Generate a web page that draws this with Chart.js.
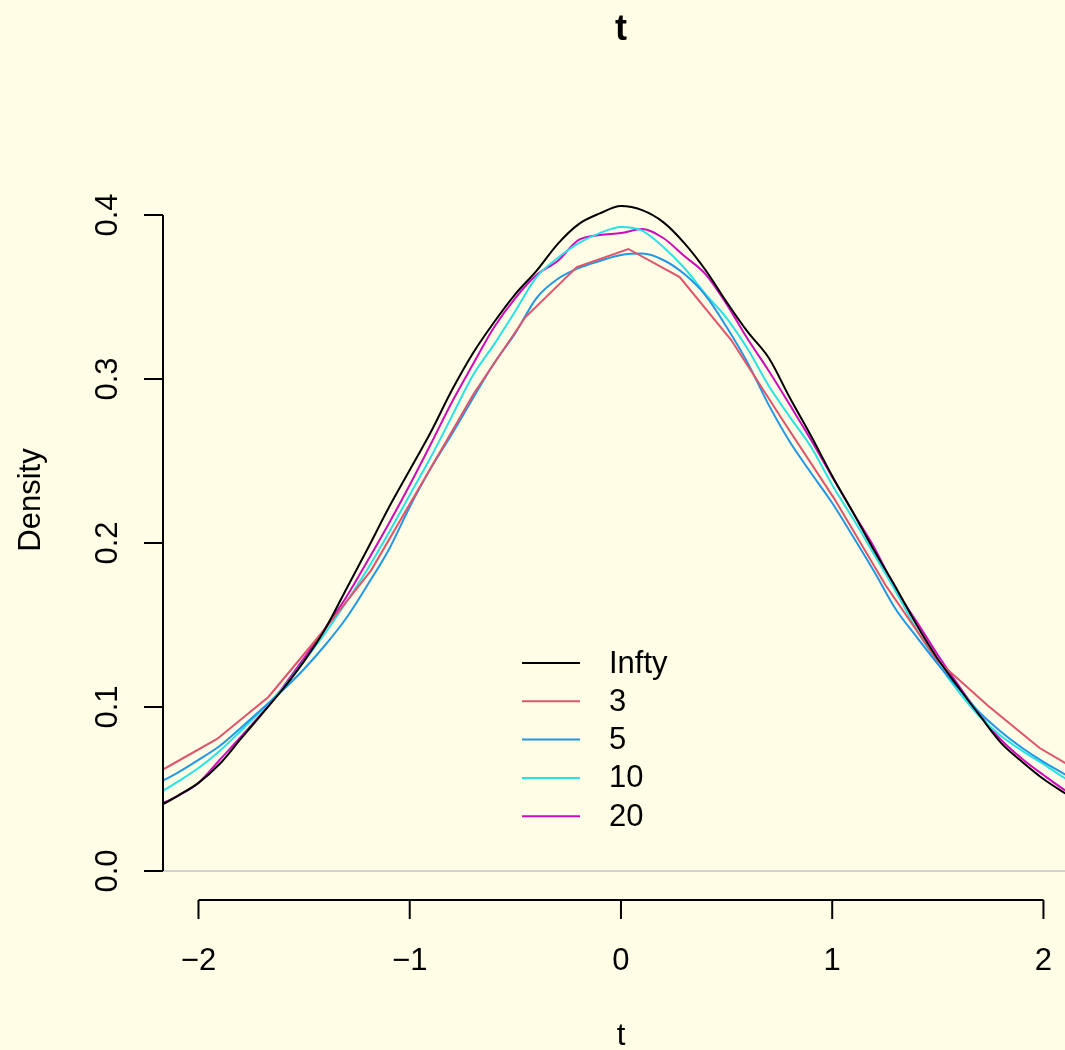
<!DOCTYPE html>
<html>
<head>
<meta charset="utf-8">
<script src="https://cdn.jsdelivr.net/npm/chart.js@4/dist/chart.umd.min.js"></script>
<style>
  html, body { margin: 0; padding: 0; background: #FFFDE6; }
  #wrap { width: 1065px; height: 1050px; }
  canvas { display: block; }
</style>
</head>
<body>
<div id="wrap"><canvas id="c" width="1065" height="1050"></canvas></div>
<script>
// ---- data ----
const xGrid = [-2.2,-2.1,-2.0,-1.9,-1.8,-1.7,-1.6,-1.5,-1.4,-1.3,-1.2,-1.1,-1.0,-0.9,-0.8,-0.7,-0.6,-0.5,-0.4,-0.3,-0.2,-0.1,0.0,0.1,0.2,0.3,0.4,0.5,0.6,0.7,0.8,0.9,1.0,1.1,1.2,1.3,1.4,1.5,1.6,1.7,1.8,1.9,2.0,2.1,2.2];
const densInfty = [0.0384,0.0457,0.0537,0.0652,0.0805,0.0957,0.1110,0.1280,0.1476,0.1720,0.1963,0.2213,0.2445,0.2677,0.2933,0.3159,0.3348,0.3518,0.3659,0.3823,0.3945,0.4010,0.4055,0.4030,0.3957,0.3829,0.3665,0.3470,0.3287,0.3128,0.2884,0.2652,0.2409,0.2183,0.1951,0.1732,0.1500,0.1293,0.1116,0.0945,0.0780,0.0665,0.0561,0.0476,0.0396];
const dens5 = [0.0530,0.0598,0.0677,0.0762,0.0872,0.0988,0.1104,0.1232,0.1378,0.1543,0.1744,0.1957,0.2220,0.2457,0.2665,0.2884,0.3098,0.3280,0.3494,0.3610,0.3677,0.3720,0.3756,0.3765,0.3726,0.3640,0.3510,0.3317,0.3098,0.2841,0.2616,0.2427,0.2244,0.2037,0.1823,0.1598,0.1427,0.1262,0.1110,0.0963,0.0848,0.0750,0.0665,0.0591,0.0524];
const dens10 = [0.0463,0.0543,0.0628,0.0732,0.0854,0.0982,0.1116,0.1280,0.1451,0.1640,0.1840,0.2061,0.2293,0.2524,0.2774,0.3024,0.3213,0.3415,0.3622,0.3738,0.3829,0.3890,0.3927,0.3905,0.3805,0.3677,0.3518,0.3372,0.3183,0.2957,0.2768,0.2585,0.2354,0.2146,0.1927,0.1707,0.1470,0.1268,0.1091,0.0939,0.0823,0.0732,0.0652,0.0567,0.0494];
const dens20 = [0.0396,0.0457,0.0537,0.0677,0.0817,0.0963,0.1122,0.1299,0.1482,0.1671,0.1890,0.2116,0.2354,0.2604,0.2860,0.3091,0.3317,0.3494,0.3634,0.3720,0.3848,0.3878,0.3890,0.3915,0.3860,0.3750,0.3640,0.3457,0.3244,0.3049,0.2841,0.2628,0.2402,0.2183,0.1970,0.1720,0.1520,0.1317,0.1128,0.0951,0.0799,0.0683,0.0585,0.0494,0.0421];
const x3 = [-2.398,-2.155,-1.912,-1.669,-1.425,-1.182,-0.939,-0.695,-0.452,-0.209,0.035,0.278,0.522,0.765,1.008,1.252,1.495,1.739,1.982,2.225];
const dens3 = [0.0500,0.0628,0.0805,0.1061,0.1439,0.1835,0.2372,0.2915,0.3378,0.3683,0.3793,0.3622,0.3238,0.2750,0.2274,0.1744,0.1287,0.1006,0.0750,0.0567];

const seriesNames = ['Infty', '3', '5', '10', '20'];
const seriesColors = ['#000000', '#DF536B', '#2297E6', '#28E2E5', '#CD0BBC'];
const xTicks = [-2, -1, 0, 1, 2];
const yTicks = [0.0, 0.1, 0.2, 0.3, 0.4];
const yTickLabels = ['0.0', '0.1', '0.2', '0.3', '0.4'];
const mainTitle = 't';
const xTitle = 't';
const yTitle = 'Density';

const toPts = (xs, ys) => xs.map((x, i) => ({ x: x, y: ys[i] }));
const seriesData = [
  toPts(xGrid, densInfty),
  toPts(x3, dens3),
  toPts(xGrid, dens5),
  toPts(xGrid, dens10),
  toPts(xGrid, dens20)
];

const FONT = '"Liberation Sans", Arial, Helvetica, sans-serif';
const BG = '#FFFDE6';

const rPlot = {
  id: 'rPlot',
  beforeDraw(chart) {
    const c = chart.ctx;
    c.save();
    c.fillStyle = BG;
    c.fillRect(0, 0, chart.width, chart.height);
    c.restore();
  },
  beforeDatasetsDraw(chart) {
    const c = chart.ctx, a = chart.chartArea, ys = chart.scales.y;
    const y0 = Math.round(ys.getPixelForValue(0));
    c.save();
    c.strokeStyle = '#D3D3D3';
    c.lineWidth = 2;
    c.beginPath();
    c.moveTo(a.left, y0);
    c.lineTo(a.right, y0);
    c.stroke();
    c.restore();
  },
  afterDraw(chart) {
    const c = chart.ctx, a = chart.chartArea;
    const xs = chart.scales.x, ys = chart.scales.y;
    c.save();
    c.strokeStyle = '#000';
    c.fillStyle = '#000';
    c.lineWidth = 2;
    // y axis
    const yTop = ys.getPixelForValue(yTicks[yTicks.length - 1]);
    const yBot = ys.getPixelForValue(yTicks[0]);
    c.beginPath();
    c.moveTo(a.left, yTop); c.lineTo(a.left, yBot);
    yTicks.forEach(v => {
      const p = ys.getPixelForValue(v);
      c.moveTo(a.left, p); c.lineTo(a.left - 19, p);
    });
    c.stroke();
    c.font = '31px ' + FONT;
    c.textAlign = 'center';
    c.textBaseline = 'alphabetic';
    yTicks.forEach((v, i) => {
      const p = ys.getPixelForValue(v);
      c.save();
      c.translate(117, p);
      c.rotate(-Math.PI / 2);
      c.fillText(yTickLabels[i], 0, 0);
      c.restore();
    });
    // x axis (detached at bottom of plot region)
    const xl = xs.getPixelForValue(xTicks[0]);
    const xr = xs.getPixelForValue(xTicks[xTicks.length - 1]);
    c.beginPath();
    c.moveTo(xl, a.bottom); c.lineTo(xr, a.bottom);
    xTicks.forEach(v => {
      const p = xs.getPixelForValue(v);
      c.moveTo(p, a.bottom); c.lineTo(p, a.bottom + 19);
    });
    c.stroke();
    xTicks.forEach(v => {
      const p = xs.getPixelForValue(v);
      const s = v < 0 ? '\u2212' + Math.abs(v) : String(v);
      c.fillText(s, p, 970);
    });
    // axis titles
    c.fillText(xTitle, 621, 1045);
    c.save();
    c.translate(40, 500);
    c.rotate(-Math.PI / 2);
    c.fillText(yTitle, 0, 0);
    c.restore();
    // main title
    c.font = 'bold 36px ' + FONT;
    c.fillText(mainTitle, 621, 40);
    // legend
    c.font = '31px ' + FONT;
    c.textAlign = 'left';
    c.textBaseline = 'middle';
    seriesNames.forEach((n, i) => {
      const yy = 663 + i * 38.3;
      c.strokeStyle = seriesColors[i];
      c.lineWidth = 2;
      c.beginPath();
      c.moveTo(522, yy); c.lineTo(580, yy);
      c.stroke();
      c.fillStyle = '#000';
      c.fillText(n, 609, yy + 1);
    });
    c.restore();
  }
};

new Chart(document.getElementById('c'), {
  type: 'scatter',
  data: {
    datasets: seriesData.map((d, i) => ({
      label: seriesNames[i],
      data: d,
      showLine: true,
      borderColor: seriesColors[i],
      backgroundColor: seriesColors[i],
      borderWidth: 2,
      pointRadius: 0,
      tension: 0,
      cubicInterpolationMode: i === 1 ? 'default' : 'monotone'
    }))
  },
  options: {
    responsive: false,
    animation: false,
    devicePixelRatio: 1,
    layout: { padding: { left: 163, right: 0, top: 106, bottom: 150 } },
    scales: {
      x: { type: 'linear', display: false, min: -2.168, max: 2.102 },
      y: { type: 'linear', display: false, min: -0.0177, max: 0.4665 }
    },
    plugins: { legend: { display: false }, tooltip: { enabled: false }, title: { display: false } }
  },
  plugins: [rPlot]
});
</script>
</body>
</html>
